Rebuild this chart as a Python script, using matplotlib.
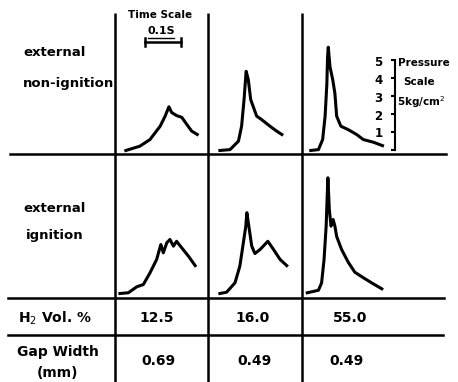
import matplotlib.pyplot as plt

# pressure traces, time in s and pressure in kg/cm2
# top row: external non-ignition
t_ni_125 = [0.031, 0.071, 0.100, 0.129, 0.143, 0.154, 0.162, 0.176, 0.191, 0.205, 0.219, 0.235]
p_ni_125 = [0, 0.24, 0.61, 1.35, 1.9, 2.43, 2.11, 1.94, 1.84, 1.45, 1.08, 0.89]
t_ni_160 = [0.034, 0.063, 0.087, 0.096, 0.103, 0.109, 0.115, 0.122, 0.139, 0.153, 0.177, 0.196, 0.211]
p_ni_160 = [0, 0.05, 0.52, 1.35, 2.83, 4.4, 3.95, 2.83, 1.91, 1.72, 1.35, 1.08, 0.89]
t_ni_550 = [0.025, 0.047, 0.059, 0.066, 0.071, 0.073, 0.075, 0.080, 0.088, 0.094, 0.099,
            0.111, 0.132, 0.156, 0.175, 0.204, 0.230]
p_ni_550 = [0, 0.05, 0.61, 1.9, 3.7, 5.18, 5.74, 4.65, 3.91, 3.17, 1.91,
            1.35, 1.16, 0.89, 0.61, 0.46, 0.27]

# bottom row: external ignition
t_ig_125 = [0.014, 0.038, 0.062, 0.081, 0.100, 0.119, 0.127, 0.131, 0.138, 0.148, 0.157,
            0.167, 0.176, 0.191, 0.210, 0.229]
p_ig_125 = [0, 0.04, 0.37, 0.5, 1.15, 1.89, 2.45, 2.72, 2.26, 2.82, 3.0,
            2.63, 2.9, 2.53, 2.07, 1.55]
t_ig_160 = [0.034, 0.053, 0.077, 0.091, 0.101, 0.108, 0.111, 0.118, 0.125, 0.134, 0.149,
            0.171, 0.187, 0.206, 0.225]
p_ig_160 = [0, 0.07, 0.59, 1.52, 2.82, 3.74, 4.49, 3.56, 2.63, 2.22, 2.45,
            2.9, 2.45, 1.89, 1.55]
t_ig_550 = [0.015, 0.047, 0.056, 0.063, 0.069, 0.072, 0.074, 0.078, 0.083, 0.089, 0.094,
            0.099, 0.113, 0.132, 0.151, 0.175, 0.199, 0.228]
p_ig_550 = [0.04, 0.18, 0.59, 1.89, 3.74, 5.41, 6.43, 4.67, 3.74, 4.11, 3.74,
            3.17, 2.45, 1.74, 1.18, 0.88, 0.59, 0.26]

h2_vol = ["12.5", "16.0", "55.0"]
gap_width = ["0.69", "0.49", "0.49"]

W, H = 458, 382
TX = 350.0   # px per second
PY = 18.0    # px per kg/cm2
FONT = "DejaVu Sans"

fig = plt.figure(figsize=(W / 100, H / 100), dpi=100)
ax = fig.add_axes([0, 0, 1, 1])
ax.set_xlim(0, W)
ax.set_ylim(H, 0)
ax.axis("off")


def cell_axes(x0, y0, x1, y1, base):
    # axes over a pixel box, zero time at x0 and zero pressure at base
    a = fig.add_axes([x0 / W, 1 - y1 / H, (x1 - x0) / W, (y1 - y0) / H])
    a.set_xlim(0, (x1 - x0) / TX)
    a.set_ylim(-(y1 - base) / PY, (base - y0) / PY)
    a.axis("off")
    return a


# table rules
lw = 1.8
for x in [115, 208, 302]:
    ax.plot([x, x], [13, H], color="black", lw=lw, solid_capstyle="butt")
ax.plot([10, 446], [154, 154], color="black", lw=lw)
ax.plot([8, 444], [298, 298], color="black", lw=lw)
ax.plot([8, 443], [335, 335], color="black", lw=lw)

# traces
cols = [115, 208, 302]
top = [(t_ni_125, p_ni_125), (t_ni_160, p_ni_160), (t_ni_550, p_ni_550)]
bot = [(t_ig_125, p_ig_125), (t_ig_160, p_ig_160), (t_ig_550, p_ig_550)]
for xl, (t, p) in zip(cols, top):
    a = cell_axes(xl, 15, xl + 93, 154, 150.5)
    a.plot(t, p, color="black", lw=2.2, clip_on=False, solid_joinstyle="round")
for xl, (t, p) in zip(cols, bot):
    a = cell_axes(xl, 156, xl + 93, 298, 293.5)
    a.plot(t, p, color="black", lw=2.2, clip_on=False, solid_joinstyle="round")

# pressure scale
sc = cell_axes(395, 15, 420, 154, 150.5)
sc.axis("on")
for s in ["top", "right", "bottom"]:
    sc.spines[s].set_visible(False)
sc.spines["left"].set_bounds(0, 5)
sc.spines["left"].set_linewidth(1.5)
sc.set_xticks([])
sc.set_yticks([0, 1, 2, 3, 4, 5])
sc.set_yticklabels(["", "1", "2", "3", "4", "5"], fontsize=8.5, fontweight="bold", family=FONT)
sc.tick_params(axis="y", direction="out", length=3, width=1.5, pad=6)
sc.patch.set_visible(False)

ax.text(398, 63, "Pressure", fontsize=7.5, fontweight="bold", family=FONT, va="center")
ax.text(403, 82, "Scale", fontsize=7.5, fontweight="bold", family=FONT, va="center")
ax.text(397, 102, "5kg/cm$^2$", fontsize=7.5, fontweight="bold", family=FONT, va="center")

# time scale
ax.text(160, 15, "Time Scale", fontsize=7.5, fontweight="bold", family=FONT,
        ha="center", va="center")
ax.text(161, 31, "0.1S", fontsize=8, fontweight="bold", family=FONT,
        ha="center", va="center")
ax.plot([148, 174], [37.5, 37.5], color="black", lw=1)
ax.plot([145, 181], [42, 42], color="black", lw=1.8)
ax.plot([145, 145], [38, 46], color="black", lw=1.8)
ax.plot([181, 181], [38, 46], color="black", lw=1.8)

# row labels
lab = dict(fontsize=9.5, fontweight="bold", family=FONT, va="center")
ax.text(23, 52, "external", **lab)
ax.text(23, 83, "non-ignition", **lab)
ax.text(23, 208, "external", **lab)
ax.text(26, 235, "ignition", **lab)

ctr = dict(fontsize=10, fontweight="bold", family=FONT, va="center", ha="center")
ax.text(55, 318, "H$_2$ Vol. %", **ctr)
ax.text(58, 352, "Gap Width", **ctr)
ax.text(57, 373, "(mm)", **ctr)

for x, v in zip([157, 253, 350], h2_vol):
    ax.text(x, 318, v, **ctr)
for x, v in zip([158, 254, 346], gap_width):
    ax.text(x, 361, v, **ctr)

plt.savefig("out.png", dpi=100)
